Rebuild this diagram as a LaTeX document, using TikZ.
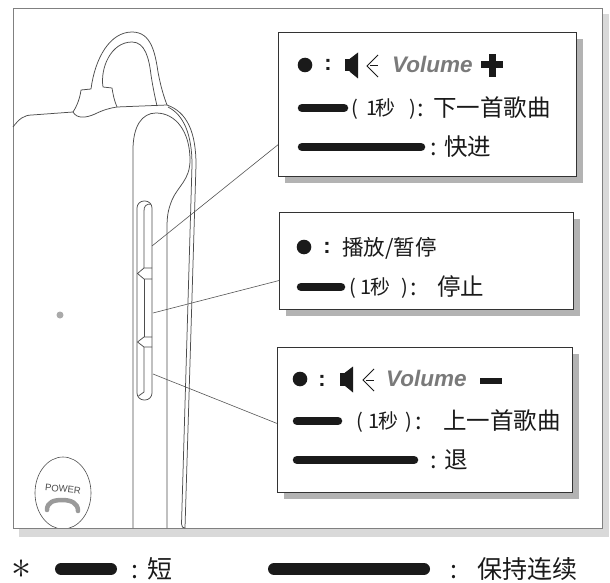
\documentclass[tikz,border=0pt]{standalone}
\usepackage{fontspec}
\usepackage{graphicx}
\newfontfamily\cjk{Noto Sans CJK SC}
\newfontfamily\lsans{Liberation Sans}
\usetikzlibrary{calc,shadows}
\definecolor{framec}{HTML}{808080}
\definecolor{framesh}{HTML}{D9D9D9}
\definecolor{boxsh}{HTML}{B3B3B3}
\definecolor{boxc}{HTML}{333333}
\definecolor{devc}{HTML}{4D4D4D}
\definecolor{connc}{HTML}{555555}
\definecolor{volc}{HTML}{7A7A7A}
\definecolor{ink}{HTML}{1A1A1A}
\definecolor{dotc}{HTML}{AAAAAA}
\definecolor{handc}{HTML}{9A9A9A}
\begin{document}
\begin{tikzpicture}[x=1pt,y=-1pt,
  dev/.style={draw=devc, line width=0.75pt, line join=round},
  conn/.style={draw=connc, line width=0.6pt},
  infobox/.style={draw=boxc, fill=white, line width=0.9pt, inner sep=0, anchor=north west,
    drop shadow={shadow xshift=7pt, shadow yshift=-7pt, fill=boxsh, opacity=1}},
  bar/.style={draw=ink, line width=8.5pt, line cap=round},
  lbar/.style={draw=ink, line width=12pt, line cap=round},
  wave/.style={draw=ink, line width=1pt},
  txt/.style={inner sep=0, anchor=base west, text=ink, font=\cjk\fontsize{23.5}{27}\selectfont},
  txtp/.style={inner sep=0, anchor=base west, text=ink, font=\cjk\fontsize{20}{23}\selectfont},
  txtn/.style={inner sep=0, anchor=base west, text=ink, font=\cjk\fontsize{21.5}{25}\selectfont},
  txtl/.style={inner sep=0, anchor=base west, text=ink, font=\cjk\fontsize{25}{28}\selectfont},
  colb/.style={inner sep=0, anchor=base, text=ink, font=\lsans\bfseries\fontsize{22}{26}\selectfont},
  vol/.style={inner sep=0, anchor=base west, text=volc, font=\lsans\bfseries\itshape\fontsize{22.5}{25}\selectfont}]

\useasboundingbox (0,0) rectangle (610,583);
\fill[white] (0,0) rectangle (610,583);

% frame and its shadow
\fill[framesh] (19,14) rectangle (609,537);
\draw[draw=framec, fill=white, line width=0.8pt] (13,8) rectangle (602,528);

% headset body: top edge of the back part
\draw[dev] (13,127) .. controls (19,119) and (24,115) .. (32,115) -- (73,112);
% ear hook, outer and inner outline
\draw[dev] (73,112) .. controls (77,106) and (80,98) .. (81,90) -- (91,89)
  .. controls (95,58) and (110,32) .. (132,32) .. controls (151,32) and (155,52) .. (158,72)
  .. controls (161,88) and (164,97) .. (167,105);
\draw[dev] (117,107) .. controls (114,100) and (113,94) .. (112,88) -- (103,87)
  .. controls (100,68) and (111,42) .. (132,42) .. controls (145,42) and (149,58) .. (151,75)
  .. controls (153,88) and (155,97) .. (157,106);
\draw[dev] (73,112) .. controls (77,119) and (86,118) .. (95,114)
  .. controls (103,110) and (110,108) .. (117,107) -- (167,105);
% right edge, double line
\draw[dev] (167,105) .. controls (187,112) and (196,132) .. (196,165) -- (185,528);
\draw[dev] (168,107) .. controls (184,115) and (192,135) .. (192,165) -- (181.5,524)
  .. controls (181.5,527) and (183,528) .. (185,528);
% front panel of the stem
\draw[dev] (133,528) -- (133,150) .. controls (133,126) and (142,113) .. (156,113)
  .. controls (176,113) and (190,132) .. (190,160) .. controls (190,180) and (178,186) .. (172,200)
  .. controls (168,210) and (167,216) .. (167,228) -- (167,528);

% button slot with bevel and two notches
\draw[dev, rounded corners=7pt] (137,201) rectangle (152,400);
\draw[dev] (151,204) .. controls (146,204) and (144,206) .. (144,211) -- (144,268);
\draw[dev] (144,279) -- (144,337);
\draw[dev] (144,347) -- (144,392) -- (138.5,396);
\draw[dev] (152,268) -- (144,268) -- (137.5,273.5) -- (144,279) -- (152,279);
\draw[dev] (152,337) -- (144,337) -- (137.5,342) -- (144,347) -- (152,347);

% sensor dot
\fill[dotc] (60,315) circle (3.5);

% power button
\begin{scope}
  \clip (13,8) rectangle (602,527.6);
  \draw[draw=devc, line width=0.6pt] (63,493) ellipse [x radius=28, y radius=36];
\end{scope}
\node[inner sep=0, text=devc, rotate=-6, font=\lsans\fontsize{9.5}{10}\selectfont] (pw) at (63,489) {POWER};
\draw[handc, line width=4.5pt, line cap=round] (47,510) .. controls (47,502) and (54,500) .. (62,500)
  .. controls (71,500) and (78,503) .. (78,511);

% box 1: volume up / next track / fast forward
\node[infobox, minimum width=298, minimum height=144] (b1) at (278,32) {};
\fill[ink] (305,65) circle (7.3);
\node[colb] (k1) at (328,71) {:};
\fill[ink] (345,59) rectangle (350,71.5);
\fill[ink] (349.5,59) -- (358,52.5) -- (358,78.5) -- (349.5,71.5) -- cycle;
\draw[wave] (378,55) -- (367,66) -- (378,77);
\draw[wave] (370,66) -- (378,66);
\node[vol] (v1) at (392,72.5) {Volume};
\fill[ink] (481,61.5) rectangle (503,68.5);
\fill[ink] (488.5,54) rectangle (495.5,77);
\draw[bar] (302,108) -- (344,108);
\node[txtp] (p1a) at (351,115.5) {(};
\node[txtp] (p1b) at (366,115.5) {1};
\node[txtp] (p1c) at (375,115.5) {秒};
\node[txtp] (p1d) at (409,115.5) {)};
\node[txt] (c1a) at (417,116.5) {:};
\node[txt] (t1a) at (433,116.5) {下一首歌曲};
\draw[bar] (302,147) -- (421,147);
\node[txt] (c1b) at (430,155.5) {:};
\node[txt] (t1b) at (444,155.5) {快进};

% box 2: play / pause / stop
\node[infobox, minimum width=294, minimum height=97] (b2) at (279,212) {};
\fill[ink] (304,247) circle (7.3);
\node[colb] (k2) at (327,253) {:};
\node[txtn] (t2a) at (342,255) {播放/暂停};
\draw[bar] (301,287) -- (341,287);
\node[txtp] (p2a) at (349,294.5) {(};
\node[txtp] (p2b) at (360,294.5) {1};
\node[txtp] (p2c) at (370,294.5) {秒};
\node[txtp] (p2d) at (401,294.5) {)};
\node[txt] (c2a) at (410,295.5) {:};
\node[txt] (t2b) at (437,295.5) {停止};

% box 3: volume down / previous track / rewind
\node[infobox, minimum width=295, minimum height=145] (b3) at (277,347) {};
\fill[ink] (300,379) circle (7.3);
\node[colb] (k3) at (322,386) {:};
\fill[ink] (340,373) rectangle (345,385.5);
\fill[ink] (344.5,373) -- (353,366.5) -- (353,392.5) -- (344.5,385.5) -- cycle;
\draw[wave] (374,369) -- (363,380) -- (374,391);
\draw[wave] (366,380) -- (374,380);
\node[vol] (v3) at (386,386.5) {Volume};
\fill[ink] (480,378) rectangle (502,384);
\draw[bar] (297,421) -- (338,421);
\node[txtp] (p3a) at (356,428.5) {(};
\node[txtp] (p3b) at (368,428.5) {1};
\node[txtp] (p3c) at (378,428.5) {秒};
\node[txtp] (p3d) at (405,428.5) {)};
\node[txt] (c3a) at (415,429.5) {:};
\node[txt] (t3a) at (443,429.5) {上一首歌曲};
\draw[bar] (297,460) -- (414,460);
\node[txt] (c3b) at (430,468.5) {:};
\node[txt] (t3b) at (444,468.5) {退};

% leader lines from the buttons to the boxes
\coordinate (s1) at (152,246);
\coordinate (s2) at (153,313);
\coordinate (s3) at (153,374);
\draw[conn] (s1) -- ($(b1.north west)!0.778!(b1.south west)$);
\draw[conn] (s2) -- ($(b2.north west)!0.70!(b2.south west)$);
\draw[conn] (s3) -- ($(b3.north west)!0.524!(b3.south west)$);

% legend
\node[inner sep=0, text=ink] (star) at (22,569) {\scalebox{4}{$\ast$}};
\draw[lbar] (61,569) -- (111,569);
\node[txtl] (lc1) at (131,578) {:};
\node[txtl] (l1) at (147,578) {短};
\draw[lbar] (274,569) -- (424,569);
\node[txtl] (lc2) at (450,578) {:};
\node[txtl] (l2) at (477,578) {保持连续};
\end{tikzpicture}
\end{document}
